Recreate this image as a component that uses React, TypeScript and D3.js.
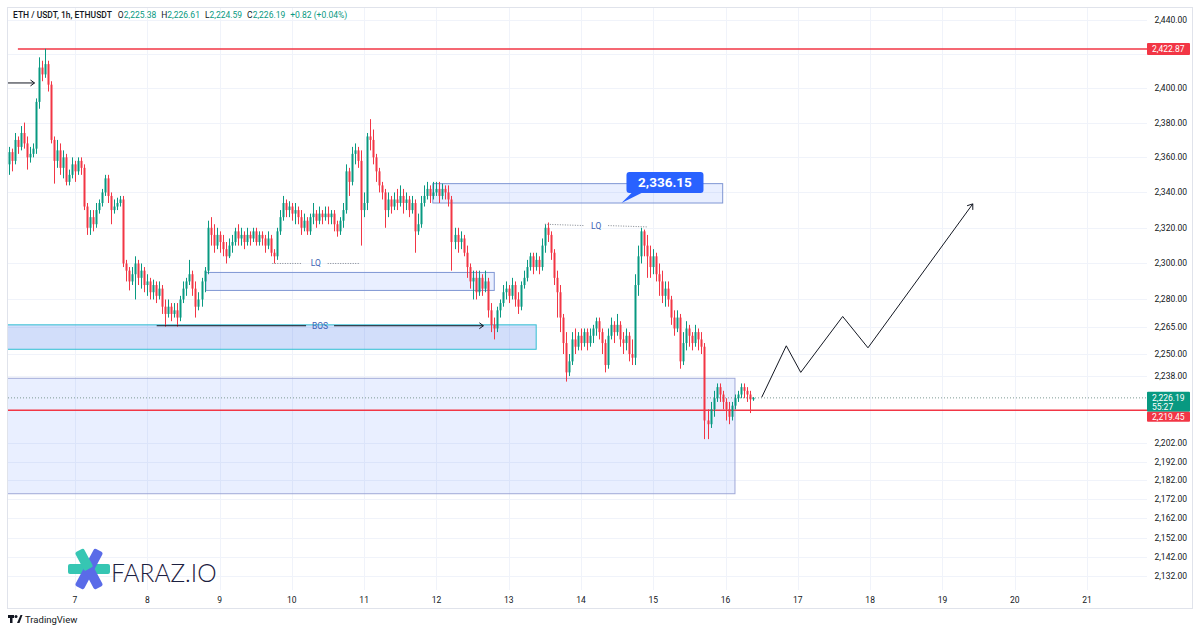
import React from 'react';
import * as d3 from 'd3';

// ---- data (hourly ETH/USDT candles) ----
const startDay = 6 + 2 / 24;
const firstOpen = 2356;

const closes = [
  2363, 2358, 2370, 2366, 2374, 2368, 2360, 2362, 2365, 2392, 2412, 2408, 2414, 2402, 2370, 2358, 2364, 2354, 2360, 2346,
  2350, 2356, 2352, 2358, 2354, 2332, 2320, 2326, 2322, 2330, 2334, 2340, 2348, 2338, 2330, 2332, 2334, 2336, 2300, 2296,
  2290, 2294, 2300, 2292, 2296, 2288, 2290, 2284, 2288, 2282, 2286, 2276, 2272, 2276, 2272, 2274, 2270, 2280, 2286, 2290,
  2294, 2286, 2276, 2280, 2290, 2296, 2320, 2316, 2310, 2316, 2312, 2308, 2304, 2310, 2312, 2318, 2314, 2316, 2312, 2316,
  2314, 2318, 2312, 2316, 2314, 2310, 2314, 2306, 2304, 2318, 2326, 2334, 2330, 2332, 2328, 2330, 2326, 2320, 2324, 2318,
  2326, 2328, 2324, 2328, 2326, 2328, 2326, 2328, 2322, 2318, 2324, 2330, 2352, 2346, 2362, 2364, 2358, 2330, 2334, 2372,
  2370, 2360, 2352, 2344, 2340, 2330, 2336, 2332, 2336, 2334, 2338, 2334, 2336, 2330, 2334, 2318, 2322, 2334, 2338, 2342,
  2338, 2340, 2342, 2338, 2342, 2340, 2336, 2312, 2316, 2312, 2314, 2306, 2298, 2290, 2292, 2284, 2292, 2286, 2290, 2274,
  2266, 2264, 2274, 2278, 2284, 2286, 2282, 2288, 2280, 2276, 2288, 2292, 2298, 2304, 2298, 2302, 2298, 2310, 2320, 2316,
  2306, 2292, 2284, 2270, 2256, 2240, 2246, 2258, 2254, 2260, 2256, 2262, 2256, 2260, 2264, 2268, 2262, 2256, 2244, 2260,
  2266, 2262, 2266, 2258, 2256, 2260, 2250, 2248, 2288, 2304, 2318, 2310, 2304, 2298, 2304, 2294, 2290, 2282, 2286, 2280,
  2270, 2264, 2270, 2246, 2256, 2264, 2260, 2256, 2262, 2258, 2254, 2214, 2212, 2220, 2226, 2232, 2228, 2224, 2220, 2216,
  2222, 2226, 2228, 2232, 2230, 2228, 2225.38, 2226.19,
];

const highs = [
  2366, 2365, 2374, 2372, 2378, 2380, 2372, 2366, 2368, 2394, 2418, 2416, 2423, 2416, 2404, 2372, 2370, 2368, 2364, 2362,
  2353, 2360, 2358, 2360, 2360, 2356, 2334, 2330, 2330, 2334, 2336, 2342, 2350, 2350, 2340, 2336, 2337, 2338, 2338, 2302,
  2298, 2298, 2304, 2302, 2300, 2298, 2294, 2292, 2291, 2290, 2290, 2288, 2280, 2280, 2278, 2278, 2278, 2282, 2290, 2292,
  2302, 2296, 2290, 2284, 2292, 2298, 2324, 2326, 2322, 2320, 2318, 2316, 2312, 2314, 2316, 2320, 2322, 2320, 2318, 2320,
  2318, 2320, 2320, 2318, 2318, 2316, 2318, 2316, 2308, 2320, 2330, 2338, 2336, 2335, 2334, 2334, 2332, 2330, 2328, 2326,
  2328, 2334, 2330, 2332, 2330, 2332, 2332, 2330, 2330, 2324, 2326, 2334, 2356, 2354, 2366, 2368, 2366, 2364, 2340, 2374,
  2382, 2376, 2362, 2354, 2346, 2342, 2340, 2338, 2340, 2342, 2344, 2342, 2340, 2338, 2338, 2336, 2328, 2338, 2344, 2346,
  2344, 2346, 2346, 2346, 2345, 2344, 2344, 2338, 2320, 2320, 2318, 2316, 2310, 2300, 2296, 2296, 2296, 2294, 2296, 2292,
  2278, 2270, 2276, 2280, 2288, 2290, 2288, 2292, 2290, 2284, 2290, 2296, 2302, 2306, 2306, 2306, 2304, 2314, 2322, 2323,
  2318, 2308, 2296, 2288, 2272, 2262, 2250, 2262, 2264, 2262, 2264, 2264, 2264, 2264, 2266, 2270, 2270, 2264, 2258, 2264,
  2270, 2268, 2272, 2268, 2262, 2264, 2262, 2258, 2294, 2310, 2320, 2319, 2316, 2310, 2308, 2306, 2300, 2296, 2290, 2290,
  2282, 2274, 2274, 2272, 2262, 2268, 2266, 2262, 2266, 2264, 2262, 2256, 2220, 2224, 2230, 2234, 2234, 2230, 2226, 2224,
  2224, 2228, 2230, 2234, 2234, 2232, 2230, 2226.61,
];

const lows = [
  2350, 2352, 2356, 2362, 2364, 2365, 2353, 2357, 2360, 2362, 2388, 2404, 2406, 2398, 2368, 2345, 2354, 2350, 2348, 2344,
  2344, 2348, 2346, 2350, 2350, 2330, 2316, 2316, 2318, 2320, 2328, 2332, 2338, 2334, 2322, 2328, 2330, 2332, 2298, 2290,
  2285, 2288, 2280, 2288, 2286, 2284, 2282, 2280, 2280, 2278, 2280, 2272, 2265, 2270, 2268, 2270, 2265, 2268, 2278, 2282,
  2288, 2282, 2270, 2274, 2276, 2284, 2294, 2310, 2306, 2308, 2306, 2304, 2300, 2303, 2306, 2310, 2310, 2310, 2308, 2310,
  2310, 2312, 2310, 2310, 2310, 2306, 2308, 2304, 2300, 2302, 2316, 2324, 2326, 2326, 2324, 2322, 2322, 2316, 2318, 2316,
  2316, 2322, 2320, 2322, 2322, 2324, 2322, 2322, 2318, 2315, 2316, 2320, 2328, 2338, 2344, 2356, 2354, 2310, 2326, 2330,
  2364, 2356, 2346, 2340, 2336, 2320, 2326, 2328, 2330, 2330, 2332, 2328, 2330, 2326, 2328, 2306, 2316, 2320, 2332, 2336,
  2334, 2336, 2338, 2334, 2336, 2336, 2332, 2296, 2308, 2306, 2308, 2304, 2292, 2286, 2280, 2280, 2282, 2282, 2284, 2270,
  2262, 2258, 2262, 2270, 2276, 2280, 2278, 2280, 2276, 2272, 2274, 2286, 2290, 2296, 2294, 2296, 2294, 2296, 2306, 2312,
  2302, 2288, 2270, 2262, 2250, 2235, 2238, 2244, 2250, 2252, 2252, 2254, 2252, 2254, 2256, 2260, 2258, 2250, 2240, 2242,
  2258, 2256, 2260, 2254, 2250, 2252, 2246, 2244, 2244, 2282, 2300, 2304, 2292, 2292, 2294, 2290, 2282, 2278, 2276, 2276,
  2266, 2260, 2262, 2242, 2244, 2252, 2254, 2252, 2254, 2252, 2250, 2204, 2204, 2210, 2216, 2224, 2224, 2220, 2214, 2212,
  2214, 2220, 2224, 2226, 2226, 2224, 2218, 2224.59,
];

const dayTicks = [7, 8, 9, 10, 11, 12, 13, 14, 15, 16, 17, 18, 19, 20, 21];
const priceTicks = [2440, 2420, 2400, 2380, 2360, 2340, 2320, 2300, 2280, 2265, 2250, 2238, 2202, 2192, 2182, 2172, 2162, 2152, 2142, 2132];
const hiddenTicks = [2420];

const highLevel = 2422.87;
const lastPrice = 2226.19;
const supportLevel = 2219.45;
const countdown = '55:27';

// zones: [fromDay, toDay, topPrice, bottomPrice]
const supplyZone = [11.95, 15.96, 2345, 2334];
const lqZone = [8.81, 12.8, 2295, 2285];
const bosZone = [6.0, 13.38, 2266, 2252.6];
const demandZone = [6.0, 16.13, 2236.8, 2175];

const calloutPoint = [14.56, 2334];
const calloutText = '2,336.15';

const lq1 = { days: [9.73, 10.93], prices: [2300, 2300] };
const lq2 = { days: [13.5, 14.92], prices: [2322, 2320.5] };
const bosLine = { days: [8.13, 12.65], price: 2265.5 };
const entryArrow = { days: [6.0, 6.44], price: 2403 };

const projDays = [16.5, 16.84, 17.04, 17.62, 17.97, 19.42];
const projPrices = [2226.5, 2254.5, 2240, 2270.6, 2253.4, 2333.5];

const headerParts = [
  ['O', '2,225.38'],
  ['H', '2,226.61'],
  ['L', '2,224.59'],
  ['C', '2,226.19'],
];
const headerChange = '+0.82 (+0.04%)';

const GREEN = '#089981';
const RED = '#f23645';
const TEXT = '#131722';
const FONT = 'Roboto, "DejaVu Sans", sans-serif';

const fmt = d3.format(',.2f');

const chevron = (x: number, y: number, angle: number, size = 6) => {
  const a1 = angle + Math.PI * 0.8;
  const a2 = angle - Math.PI * 0.8;
  return `M${x + size * Math.cos(a1)},${y + size * Math.sin(a1)}L${x},${y}L${x + size * Math.cos(a2)},${y + size * Math.sin(a2)}`;
};

const App = () => {
  const W = 1200;
  const H = 630;
  const plot = { left: 8, top: 8, right: 1147, bottom: 590 };

  const x = d3.scaleLinear().domain([7, 21]).range([75, 1087]);
  const y = d3.scaleLog().domain([2132, 2440]).range([576, 20]);

  const candles = closes.map((c, i) => {
    const o = i === 0 ? firstOpen : closes[i - 1];
    return { t: startDay + i / 24, o, c, h: highs[i], l: lows[i] };
  });

  const zoneRect = (z: number[]) => ({
    x: x(z[0]),
    y: y(z[2]),
    w: x(z[1]) - x(z[0]),
    h: y(z[3]) - y(z[2]),
  });
  const supply = zoneRect(supplyZone);
  const lqz = zoneRect(lqZone);
  const bos = zoneRect(bosZone);
  const demand = zoneRect(demandZone);

  const projLine = d3
    .line<number>()
    .x((d, i) => x(projDays[i]))
    .y((d) => y(d))(projPrices) as string;
  const n = projDays.length;
  const projAngle = Math.atan2(
    y(projPrices[n - 1]) - y(projPrices[n - 2]),
    x(projDays[n - 1]) - x(projDays[n - 2])
  );

  const cx = x(calloutPoint[0]);
  const cy = y(calloutPoint[1]);
  const cBox = { x: cx + 5, y: cy - 31, w: 77, h: 21 };

  const bosY = y(bosLine.price);
  const bosMid = (x(bosLine.days[0]) + x(bosLine.days[1])) / 2;

  const lastY = y(lastPrice);
  const lq1Mid = (x(lq1.days[0]) + x(lq1.days[1])) / 2;
  const lq2Mid = (x(lq2.days[0]) + x(lq2.days[1])) / 2;

  return (
    <svg
      width={W}
      height={H}
      style={{ position: 'absolute', left: 0, top: 0, background: '#fff' }}
      fontFamily={FONT}
    >
      <defs>
        <clipPath id="plotClip">
          <rect x={plot.left} y={plot.top} width={plot.right - plot.left} height={plot.bottom - plot.top} />
        </clipPath>
      </defs>
      <rect width={W} height={H} fill="#fff" />

      {/* grid */}
      <g stroke="#f0f3fa" strokeWidth={1}>
        {priceTicks.map((p) => (
          <line key={p} x1={plot.left} x2={plot.right} y1={Math.round(y(p)) + 0.5} y2={Math.round(y(p)) + 0.5} />
        ))}
        {dayTicks.map((d) => (
          <line key={d} x1={Math.round(x(d)) + 0.5} x2={Math.round(x(d)) + 0.5} y1={plot.top} y2={plot.bottom} />
        ))}
      </g>

      {/* frame */}
      <rect x={7.5} y={7.5} width={1185} height={601} fill="none" stroke="#e0e3eb" />

      <g clipPath="url(#plotClip)">
        {/* zones */}
        <rect x={demand.x} y={demand.y} width={demand.w} height={demand.h} fill="rgba(41,98,255,0.1)" stroke="#9fa8d8" strokeWidth={1} />
        <rect x={bos.x} y={bos.y} width={bos.w} height={bos.h} fill="rgba(30,90,230,0.2)" stroke="#2fbfd2" strokeWidth={1} />
        <rect x={lqz.x} y={lqz.y} width={lqz.w} height={lqz.h} fill="rgba(41,98,255,0.1)" stroke="#7f96d4" strokeWidth={1} />
        <rect x={supply.x} y={supply.y} width={supply.w} height={supply.h} fill="rgba(41,98,255,0.1)" stroke="#7f96d4" strokeWidth={1} />

        {/* horizontal levels */}
        <line x1={x(6.21)} x2={plot.right} y1={y(highLevel)} y2={y(highLevel)} stroke={RED} strokeWidth={1.5} />
        <line x1={plot.left} x2={plot.right} y1={y(supportLevel)} y2={y(supportLevel)} stroke={RED} strokeWidth={1.5} />
        <line x1={plot.left} x2={plot.right} y1={lastY} y2={lastY} stroke="#7d9a94" strokeWidth={1} strokeDasharray="1 2" />

        {/* candles */}
        {candles.map((d, i) => {
          const col = d.c >= d.o ? GREEN : RED;
          const px = Math.round(x(d.t));
          const top = y(Math.max(d.o, d.c));
          const bot = y(Math.min(d.o, d.c));
          return (
            <g key={i}>
              <line x1={px + 0.5} x2={px + 0.5} y1={y(d.h)} y2={y(d.l)} stroke={col} strokeWidth={1} />
              <rect x={px - 0.5} y={top} width={2} height={Math.max(1, bot - top)} fill={col} />
            </g>
          );
        })}

        {/* entry arrow */}
        <line x1={x(entryArrow.days[0])} x2={x(entryArrow.days[1])} y1={y(entryArrow.price)} y2={y(entryArrow.price)} stroke={TEXT} strokeWidth={1} />
        <path d={chevron(x(entryArrow.days[1]), y(entryArrow.price), 0, 5)} fill="none" stroke={TEXT} strokeWidth={1} />

        {/* LQ lines */}
        <line x1={x(lq1.days[0])} x2={lq1Mid - 14} y1={y(lq1.prices[0])} y2={y(lq1.prices[0])} stroke="#80868f" strokeDasharray="1 1.5" />
        <line x1={lq1Mid + 12} x2={x(lq1.days[1])} y1={y(lq1.prices[1])} y2={y(lq1.prices[1])} stroke="#80868f" strokeDasharray="1 1.5" />
        <text x={lq1Mid} y={y(lq1.prices[0]) + 3} fontSize={8.5} fill="#3d62b3" textAnchor="middle">LQ</text>
        <line x1={x(lq2.days[0])} x2={lq2Mid - 12} y1={y(lq2.prices[0])} y2={(y(lq2.prices[0]) + y(lq2.prices[1])) / 2} stroke="#80868f" strokeDasharray="1 1.5" />
        <line x1={lq2Mid + 12} x2={x(lq2.days[1])} y1={(y(lq2.prices[0]) + y(lq2.prices[1])) / 2} y2={y(lq2.prices[1])} stroke="#80868f" strokeDasharray="1 1.5" />
        <text x={lq2Mid} y={(y(lq2.prices[0]) + y(lq2.prices[1])) / 2 + 3} fontSize={8.5} fill="#3d62b3" textAnchor="middle">LQ</text>

        {/* BOS */}
        <line x1={x(bosLine.days[0])} x2={bosMid - 14} y1={bosY} y2={bosY} stroke={TEXT} />
        <line x1={bosMid + 14} x2={x(bosLine.days[1])} y1={bosY} y2={bosY} stroke={TEXT} />
        <path d={chevron(x(bosLine.days[1]), bosY, 0, 5)} fill="none" stroke={TEXT} />
        <text x={bosMid} y={bosY + 3} fontSize={8.5} fill="#3d62b3" textAnchor="middle">BOS</text>

        {/* projection */}
        <path d={projLine} fill="none" stroke={TEXT} strokeWidth={1} />
        <path d={chevron(x(projDays[n - 1]), y(projPrices[n - 1]), projAngle, 6)} fill="none" stroke={TEXT} />

        {/* callout */}
        <path d={`M${cBox.x + 6},${cBox.y + cBox.h - 1}L${cx},${cy}L${cBox.x + 17},${cBox.y + cBox.h - 1}Z`} fill="#2962ff" />
        <rect x={cBox.x} y={cBox.y} width={cBox.w} height={cBox.h} rx={3} fill="#2962ff" />
        <text x={cBox.x + cBox.w / 2} y={cBox.y + 15} fontSize={13.5} fontWeight={700} fill="#fff" textAnchor="middle">{calloutText}</text>
      </g>

      {/* header */}
      <text x={13} y={18} fontSize={8.5} fill={TEXT}>
        <tspan fontWeight={500}>ETH / USDT, 1h, ETHUSDT</tspan>
        {headerParts.map(([k, v], i) => (
          <tspan key={k} dx={i === 0 ? 6 : 5}>
            <tspan fill={TEXT}>{k}</tspan>
            <tspan fill={GREEN}>{v}</tspan>
          </tspan>
        ))}
        <tspan dx={5} fill={GREEN}>{headerChange}</tspan>
      </text>

      {/* price axis */}
      <g fontSize={8.5} fill={TEXT} textAnchor="end">
        {priceTicks
          .filter((p) => !hiddenTicks.includes(p))
          .map((p) => (
            <text key={p} x={1187} y={y(p) + 3}>{fmt(p)}</text>
          ))}
      </g>
      <g fontSize={8.5} fill="#fff">
        <rect x={1147} y={y(highLevel) - 6} width={43} height={12} rx={1} fill={RED} />
        <text x={1152} y={y(highLevel) + 3}>{fmt(highLevel)}</text>
        <rect x={1147} y={lastY - 6} width={43} height={20} rx={1} fill={GREEN} />
        <text x={1152} y={lastY + 3}>{fmt(lastPrice)}</text>
        <text x={1152} y={lastY + 12}>{countdown}</text>
        <rect x={1147} y={lastY + 14} width={43} height={10} rx={1} fill={RED} />
        <text x={1152} y={lastY + 22}>{fmt(supportLevel)}</text>
      </g>

      {/* time axis */}
      <g fontSize={8.5} fill={TEXT} textAnchor="middle">
        {dayTicks.map((d) => (
          <text key={d} x={x(d)} y={603}>{d}</text>
        ))}
      </g>

      {/* watermark logo */}
      <g transform="translate(89,569)">
        <rect x={-21} y={-5} width={42} height={10} rx={2} fill="#36c6b3" />
        <g transform="rotate(-62)">
          <rect x={-21} y={-5} width={42} height={10} rx={2} fill="#5a6be8" />
        </g>
        <g transform="rotate(62)">
          <rect x={-21} y={-5} width={21} height={10} rx={2} fill="#36c6b3" />
          <rect x={0} y={-5} width={21} height={10} rx={2} fill="#5a6be8" />
        </g>
      </g>
      <text x={111} y={582} fontSize={24.5} fontFamily="Lato, sans-serif" fontWeight={300} fill="#1c2040">FARAZ.IO</text>

      {/* footer */}
      <g fill={TEXT}>
        <rect x={8} y={615} width={6} height={3} />
        <rect x={10} y={615} width={2.5} height={8} />
        <circle cx={16} cy={616.5} r={1.5} />
        <path d="M17,623L20.5,615L22.5,615L19.5,623Z" />
      </g>
      <text x={25} y={623} fontSize={9.5} fill={TEXT}>TradingView</text>
    </svg>
  );
};

export default App;
